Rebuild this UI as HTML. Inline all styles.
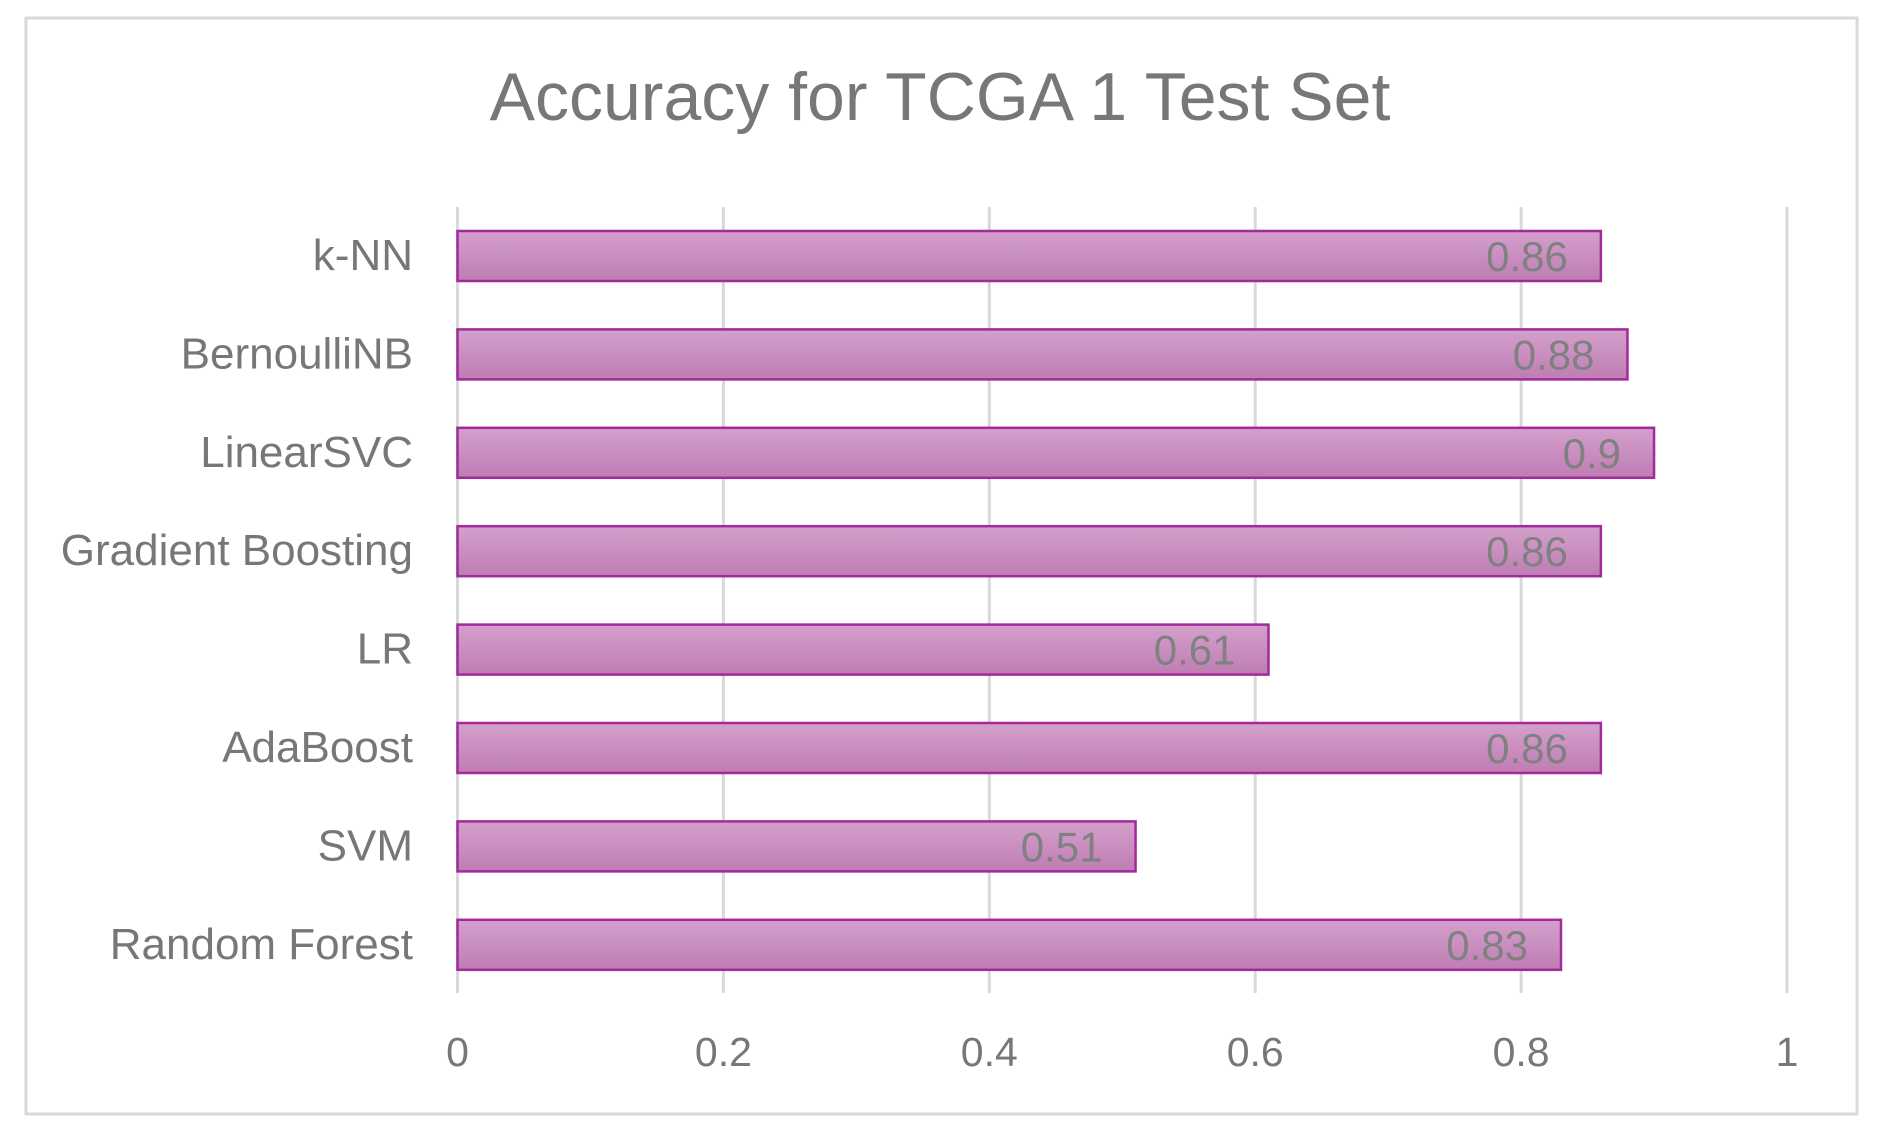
<!DOCTYPE html>
<html><head><meta charset="utf-8"><style>
html,body{margin:0;padding:0;background:#fff;}
svg{display:block;font-family:"Liberation Sans",sans-serif;}
</style></head><body>
<svg id="chart" width="1878" height="1129" viewBox="0 0 1878 1129">
<defs>
<linearGradient id="barGrad" x1="0" y1="0" x2="0" y2="1">
<stop offset="0" stop-color="#d4a0cc"/><stop offset="1" stop-color="#be7db3"/>
</linearGradient>
</defs>
<rect x="26" y="18" width="1831" height="1096" fill="#fff" stroke="#d9d9d9" stroke-width="3"/>
<text x="940" y="120" text-anchor="middle" font-size="68" fill="#777">Accuracy for TCGA 1 Test Set</text>
<g id="grid"></g><g id="bars"></g><g id="labels"></g>
</svg>
<script>
const categories=["k-NN","BernoulliNB","LinearSVC","Gradient Boosting","LR","AdaBoost","SVM","Random Forest"];
const values=[0.86,0.88,0.9,0.86,0.61,0.86,0.51,0.83];
const ticks=[0,0.2,0.4,0.6,0.8,1];
const tickLabels=["0","0.2","0.4","0.6","0.8","1"];
const NS="http://www.w3.org/2000/svg";
const x0=457.5,x1=1787,yTop=207,yBot=993,firstC=256,step=98.4,barH=50;
const xs=v=>x0+(x1-x0)*v;
const yc=i=>firstC+i*step;
function mk(t,a,p){const e=document.createElementNS(NS,t);for(const k in a)e.setAttribute(k,a[k]);p.appendChild(e);return e;}
const grid=document.getElementById('grid'),bars=document.getElementById('bars'),labels=document.getElementById('labels');
ticks.forEach((t,i)=>{
 const l=mk('line',{x1:xs(t),x2:xs(t),y1:yTop,y2:yBot,stroke:'#d9d9d9','stroke-width':3},grid);
 
 
 const tx=mk('text',{x:xs(t),y:1066,'text-anchor':'middle','font-size':41,fill:'#777'},labels);
 tx.textContent=tickLabels[i];
 
 
});
categories.forEach((c,i)=>{
 const y=yc(i);
 const r=mk('rect',{x:x0,y:y-barH/2,width:xs(values[i])-x0,height:barH,fill:'url(#barGrad)',stroke:'#a3299c','stroke-width':2.5},bars);
 
 
 const v=mk('text',{x:xs(values[i])-33,y:y+15,'text-anchor':'end','font-size':42,fill:'#808080'},labels);
 v.textContent=String(values[i]);
 
 
 const cl=mk('text',{x:413,y:y+14,'text-anchor':'end','font-size':44,fill:'#777'},labels);
 cl.textContent=c;
 
 
});
</script>
</body></html>
